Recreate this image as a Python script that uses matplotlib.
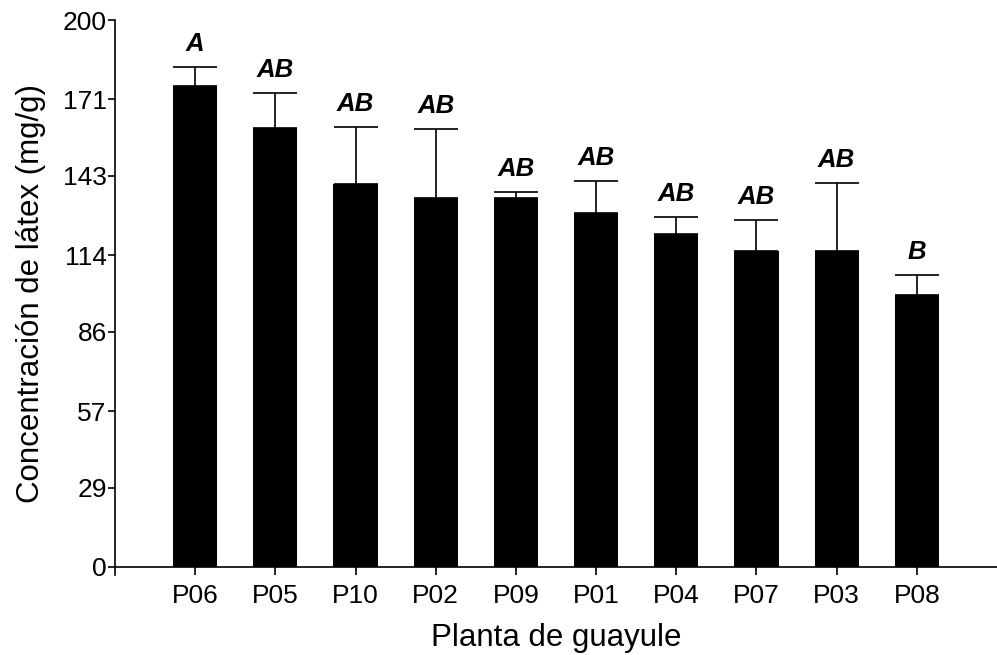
import numpy as np
import matplotlib.pyplot as plt

plantas = ['P06', 'P05', 'P10', 'P02', 'P09', 'P01', 'P04', 'P07', 'P03', 'P08']
media = [175.9, 160.4, 139.9, 134.8, 134.8, 129.6, 121.6, 115.7, 115.7, 99.6]
error_sup = [7.0, 12.8, 21.1, 25.3, 2.2, 11.5, 6.3, 11.0, 24.8, 7.3]
letras = ['A', 'AB', 'AB', 'AB', 'AB', 'AB', 'AB', 'AB', 'AB', 'B']
yticks = [0, 29, 57, 86, 114, 143, 171, 200]

plt.rcParams['font.family'] = ['Liberation Sans', 'DejaVu Sans']

fig = plt.figure(figsize=(9.97, 6.55), dpi=100)
ax = fig.add_axes([115 / 997, (655 - 567) / 655, 882 / 997, 547 / 655])

x = np.arange(len(plantas))
ax.bar(x, media, width=0.55, color='black', zorder=2)
ax.errorbar(x, media, yerr=[np.zeros(len(media)), error_sup], fmt='none',
            ecolor='black', elinewidth=1.2, capsize=16, capthick=1.2, zorder=1)

for xi, m, e, l in zip(x, media, error_sup, letras):
    ax.annotate(l, (xi, m + e), xytext=(0, 8), textcoords='offset points',
                ha='center', va='bottom', fontsize=18.5, fontweight='bold',
                fontstyle='italic')

ax.set_xlim(-1, 10)
ax.set_ylim(0, 200)
ax.set_yticks(yticks)
ax.set_xticks(x)
ax.set_xticklabels(plantas)
ax.spines['top'].set_visible(False)
ax.spines['right'].set_visible(False)
ax.spines['left'].set_bounds(-3, 200)
ax.spines['left'].set_linewidth(1.2)
ax.spines['bottom'].set_linewidth(1.2)
ax.tick_params(axis='both', labelsize=19, width=1.2)
ax.tick_params(axis='y', length=5, pad=1)
ax.tick_params(axis='x', length=6, pad=6)

ax.set_ylabel('Concentración de látex (mg/g)', fontsize=22.5, labelpad=12)
ax.set_xlabel('Planta de guayule', fontsize=22.5, labelpad=11)

fig.savefig('out.png', dpi=100)
